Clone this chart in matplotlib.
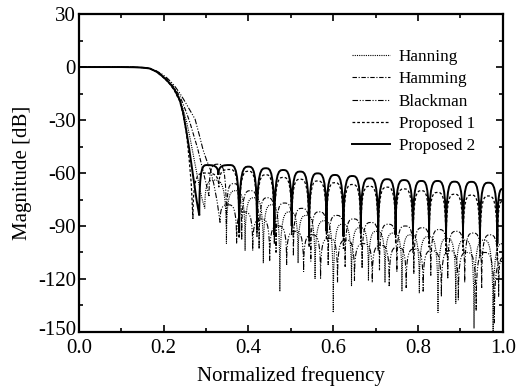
import matplotlib
matplotlib.use('Agg')
import matplotlib.pyplot as plt
import matplotlib.transforms as mtransforms
from matplotlib.path import Path
from matplotlib.patches import PathPatch
from matplotlib.lines import Line2D
from matplotlib.ticker import MultipleLocator

# ---------------- data ----------------
labels = ["Hanning", "Hamming", "Blackman", "Proposed 1", "Proposed 2"]

# Proposed 2 (solid)
p2_trans_f = [0.0, 0.05, 0.10, 0.13, 0.15, 0.167, 0.183, 0.195, 0.207, 0.217, 0.226, 0.238, 0.246, 0.254, 0.260, 0.266, 0.272, 0.278]
p2_trans_db = [0, 0, 0, -0.1, -0.3, -0.8, -2.6, -4.8, -7.4, -10, -13, -18.7, -26, -37, -46, -56, -66, -76]
p2_null_f = [0.284, 0.329, 0.378, 0.420, 0.461, 0.502, 0.543, 0.584, 0.624, 0.665, 0.706, 0.747, 0.788, 0.826, 0.866, 0.906, 0.946, 0.987]
p2_null_db = [-84, -61, -94, -92, -95, -90, -97, -93, -96, -94, -98, -95, -97, -96, -99, -97, -100, -100]
p2_peak_f = [0.302, 0.356, 0.400, 0.441, 0.482, 0.522, 0.563, 0.604, 0.645, 0.686, 0.727, 0.767, 0.808, 0.846, 0.886, 0.926, 0.966]
p2_peak_db = [-55.5, -55.5, -56.4, -57.3, -58.3, -59.2, -60.2, -61.1, -61.7, -63.0, -63.5, -64.0, -64.5, -64.5, -64.9, -65.0, -65.5]
p2_end = [1.0, -69]

# Proposed 1 (dashed)
p1_trans_f = [0.0, 0.05, 0.10, 0.13, 0.15, 0.167, 0.183, 0.195, 0.207, 0.217, 0.226, 0.238, 0.246, 0.254, 0.260, 0.265]
p1_trans_db = [0, 0, 0, -0.1, -0.3, -0.8, -2.7, -5.0, -7.7, -10.4, -13.6, -19.5, -27, -38, -52, -66]
p1_null_f = [0.269, 0.330, 0.378, 0.420, 0.461, 0.502, 0.543, 0.584, 0.624, 0.665, 0.706, 0.747, 0.788, 0.826, 0.866, 0.906, 0.946, 0.987]
p1_null_db = [-86, -68, -97, -96, -100, -95, -102, -98, -103, -99, -104, -100, -105, -102, -106, -104, -108, -110]
p1_peak_f = [0.297, 0.356, 0.400, 0.441, 0.482, 0.522, 0.563, 0.604, 0.645, 0.686, 0.727, 0.767, 0.808, 0.846, 0.886, 0.926, 0.966]
p1_peak_db = [-60, -58, -59, -61, -62.5, -63.5, -64.5, -65.5, -66.5, -67.5, -68, -69, -70, -71, -72, -72.5, -73]
p1_end = [1.0, -76]

# Hanning (dotted)
ha_trans_f = [0.0, 0.05, 0.10, 0.13, 0.15, 0.167, 0.183, 0.195, 0.207, 0.217, 0.226, 0.238, 0.246, 0.254, 0.262, 0.270, 0.278, 0.286, 0.292]
ha_trans_db = [0, 0, 0, -0.1, -0.3, -0.8, -2.6, -4.6, -7.2, -9.8, -12.7, -18, -24, -31, -40, -50, -60, -70, -76]
ha_null_f = [0.297, 0.348, 0.392, 0.435, 0.474, 0.517, 0.557, 0.600, 0.643, 0.683, 0.722, 0.762, 0.803, 0.847, 0.889, 0.932, 0.977]
ha_null_db = [-80, -100, -104, -111, -127, -111, -120, -139, -124, -121, -122, -127, -128, -139, -134, -148, -150]
ha_peak_f = [0.320, 0.370, 0.413, 0.455, 0.497, 0.537, 0.580, 0.621, 0.663, 0.703, 0.742, 0.783, 0.825, 0.868, 0.910, 0.955]
ha_peak_db = [-64, -70, -74, -78, -82, -84, -87, -89, -91, -93, -94, -95, -96, -97, -98, -98]
ha_end = [1.0, -100]

# Hamming (dash-dot)
hm_trans_f = [0.0, 0.05, 0.10, 0.13, 0.15, 0.167, 0.183, 0.195, 0.207, 0.217, 0.226, 0.238, 0.246, 0.254, 0.262, 0.270, 0.280, 0.290, 0.300]
hm_trans_db = [0, 0, 0, -0.1, -0.3, -0.8, -2.5, -4.3, -6.8, -9.2, -12, -16.5, -21, -26, -31.5, -38, -46, -56, -66]
hm_null_f = [0.307, 0.348, 0.384, 0.425, 0.465, 0.506, 0.547, 0.588, 0.628, 0.668, 0.709, 0.750, 0.790, 0.830, 0.870, 0.910, 0.950, 0.990]
hm_null_db = [-73, -90, -98, -103, -105, -107, -110, -112, -113, -114, -115, -116, -117, -118, -120, -122, -125, -130]
hm_peak_f = [0.328, 0.365, 0.405, 0.445, 0.485, 0.526, 0.567, 0.608, 0.648, 0.689, 0.730, 0.770, 0.810, 0.850, 0.890, 0.930, 0.970]
hm_peak_db = [-55, -66, -70, -74, -77, -80, -82, -84, -86, -88, -89, -90, -91, -92, -93, -94, -95]
hm_end = [1.0, -108]

# Blackman (dash-dot-dot)
bl_trans_f = [0.0, 0.05, 0.10, 0.13, 0.15, 0.167, 0.183, 0.195, 0.207, 0.217, 0.226, 0.238, 0.250, 0.262, 0.274, 0.285, 0.293, 0.301, 0.310, 0.318, 0.326]
bl_trans_db = [0, 0, 0, -0.1, -0.3, -0.7, -2.2, -3.8, -6.0, -8.3, -10.8, -14.8, -19.5, -24.5, -29.5, -39.4, -47, -52.6, -58, -66, -76]
bl_null_f = [0.333, 0.372, 0.410, 0.450, 0.490, 0.530, 0.570, 0.610, 0.650, 0.692, 0.732, 0.772, 0.812, 0.855, 0.895, 0.937, 0.980]
bl_null_db = [-88, -100, -104, -110, -112, -116, -120, -122, -121, -122, -124, -125, -127, -130, -132, -138, -145]
bl_peak_f = [0.352, 0.390, 0.430, 0.470, 0.510, 0.550, 0.590, 0.630, 0.672, 0.712, 0.752, 0.792, 0.832, 0.875, 0.915, 0.958]
bl_peak_db = [-78, -82, -86, -90, -93, -95, -97, -98, -100, -101, -102, -103, -104, -104, -105, -105]
bl_end = [1.0, -110]

x_ticks = [0.0, 0.2, 0.4, 0.6, 0.8, 1.0]
y_ticks = [30, 0, -30, -60, -90, -120, -150]

# ---------------- drawing ----------------
plt.rcParams['font.family'] = ['Liberation Serif', 'DejaVu Serif']
plt.rcParams['axes.unicode_minus'] = False

K = 0.45


def build_path(tf, tdb, nf, ndb, pf, pdb, end):
    verts = [(tf[0], tdb[0])]
    codes = [Path.MOVETO]
    for f, d in zip(tf[1:], tdb[1:]):
        verts.append((f, d))
        codes.append(Path.LINETO)
    verts.append((nf[0], ndb[0]))
    codes.append(Path.LINETO)
    seq = []
    for i in range(len(pf)):
        seq.append((pf[i], pdb[i]))
        if i + 1 < len(nf):
            seq.append((nf[i + 1], ndb[i + 1]))
    seq.append((end[0], end[1]))
    prev = (nf[0], ndb[0])
    for f, d in seq:
        x0, y0 = prev
        dx = f - x0
        if d > y0:
            c1 = (x0, d)
            c2 = (x0 + K * dx, d)
        else:
            c1 = (f - K * dx, y0)
            c2 = (f, y0)
        verts += [c1, c2, (f, d)]
        codes += [Path.CURVE4] * 3
        prev = (f, d)
    return Path(verts, codes)


fig = plt.figure(figsize=(5.26, 3.91), dpi=100)
ax = fig.add_axes([0.150, 0.151, 0.806, 0.813])

styles = [
    dict(ls=(0, (1, 1)), lw=0.8),          # Hanning
    dict(ls=(0, (4, 1.5, 1, 1.5)), lw=0.8),  # Hamming
    dict(ls=(0, (5, 1.5, 1, 1.5, 1, 1.5)), lw=0.8),  # Blackman
    dict(ls=(0, (2.2, 1.6)), lw=0.9),      # Proposed 1
    dict(ls='-', lw=1.4),                  # Proposed 2
]
series = [
    (ha_trans_f, ha_trans_db, ha_null_f, ha_null_db, ha_peak_f, ha_peak_db, ha_end),
    (hm_trans_f, hm_trans_db, hm_null_f, hm_null_db, hm_peak_f, hm_peak_db, hm_end),
    (bl_trans_f, bl_trans_db, bl_null_f, bl_null_db, bl_peak_f, bl_peak_db, bl_end),
    (p1_trans_f, p1_trans_db, p1_null_f, p1_null_db, p1_peak_f, p1_peak_db, p1_end),
    (p2_trans_f, p2_trans_db, p2_null_f, p2_null_db, p2_peak_f, p2_peak_db, p2_end),
]
handles = []
for s, st, lab in zip(series, styles, labels):
    path = build_path(*s)
    patch = PathPatch(path, fill=False, edgecolor='black', linewidth=st['lw'],
                      linestyle=st['ls'], capstyle='butt')
    ax.add_patch(patch)
    handles.append(Line2D([], [], color='black', lw=st['lw'], ls=st['ls'], label=lab))

ax.set_xlim(0.0, 1.0)
ax.set_ylim(-150, 30)
ax.set_xticks(x_ticks)
ax.set_xticklabels([f"{v:.1f}" for v in x_ticks])
ax.set_yticks(y_ticks)
ax.set_yticklabels([str(v) for v in y_ticks])
ax.xaxis.set_minor_locator(MultipleLocator(0.1))
ax.yaxis.set_minor_locator(MultipleLocator(15))
ax.tick_params(which='both', direction='in', top=True, right=True, width=1.2,
               labelsize=15)
ax.tick_params(axis='x', pad=5)
ax.tick_params(axis='y', pad=2)
ax.tick_params(which='major', length=5)
ax.tick_params(which='minor', length=3)
for sp in ax.spines.values():
    sp.set_linewidth(1.6)

# lift the bottom y label slightly so it does not collide with "0.0"
bottom_lab = ax.get_yticklabels()[-1]
bottom_lab.set_transform(bottom_lab.get_transform() +
                         mtransforms.ScaledTranslation(0, 3 / 72, fig.dpi_scale_trans))

ax.set_xlabel("Normalized frequency", fontsize=15, labelpad=6)
ax.set_ylabel("Magnitude [dB]", fontsize=15, labelpad=4)

leg = ax.legend(handles=handles, loc='upper left', bbox_to_anchor=(0.645, 0.890),
                frameon=False, fontsize=12.3, handlelength=2.2, handletextpad=0.53,
                labelspacing=0.37, borderpad=0, borderaxespad=0)

fig.savefig('out.png', dpi=100)
